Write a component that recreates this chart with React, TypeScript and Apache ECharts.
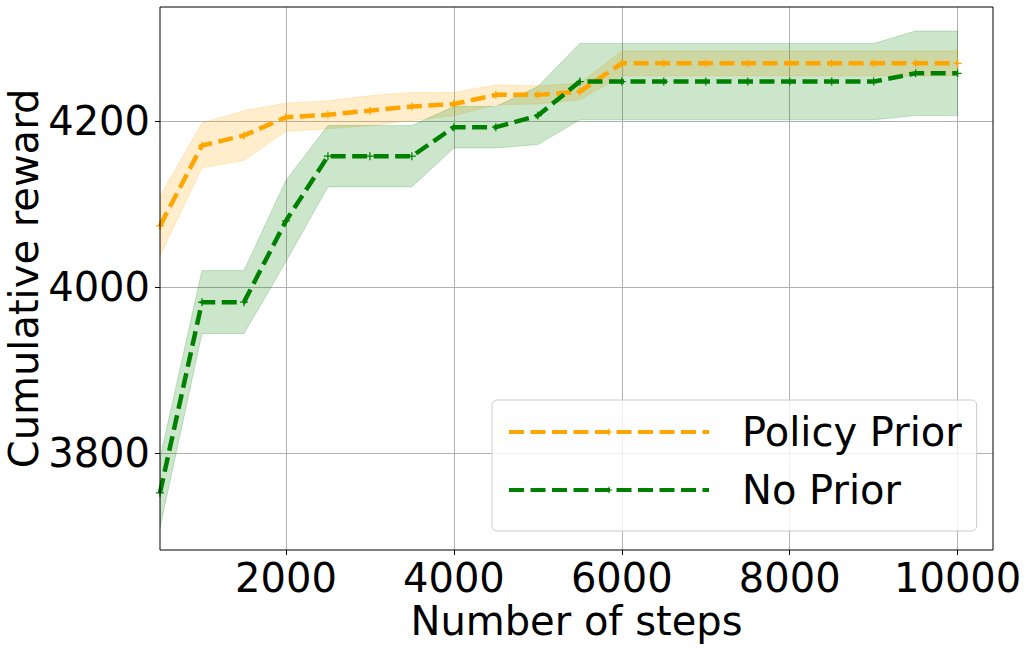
import React, { useEffect, useRef } from "react";
import * as echarts from "echarts";

const steps = [500, 1000, 1500, 2000, 2500, 3000, 3500, 4000, 4500, 5000, 5500, 6000, 6500, 7000, 7500, 8000, 8500, 9000, 9500, 10000];
const policyMean = [4074, 4171, 4183, 4205, 4208, 4213, 4218, 4221, 4232, 4232, 4236, 4270, 4270, 4270, 4270, 4270, 4270, 4270, 4270, 4270];
const policyStd = [36, 27, 30, 17, 17, 18, 17, 14, 12, 11, 10, 15, 15, 15, 15, 15, 15, 15, 15, 15];
const noPriorMean = [3752, 3982, 3982, 4080, 4158, 4158, 4158, 4193, 4193, 4207, 4248, 4248, 4248, 4248, 4248, 4248, 4248, 4248, 4258, 4258];
const noPriorStd = [42, 38, 38, 49, 37, 37, 37, 25, 25, 35, 46, 46, 46, 46, 46, 46, 46, 46, 51, 51];
const xTicks = [2000, 4000, 6000, 8000, 10000];
const yTicks = [3800, 4000, 4200];
const seriesNames = ["Policy Prior", "No Prior"];

const FONT = "DejaVu Sans";
const PLUS = "path://M0,4.2H10V5.8H0Z M4.2,0H5.8V10H4.2Z";

function bandSeries(name: string, mean: number[], std: number[], fill: string, stroke: string) {
  const data = steps.map((s, i) => [s, mean[i] - std[i], mean[i] + std[i]]);
  return {
    type: "custom",
    name,
    data,
    clip: true,
    silent: true,
    encode: { x: 0, y: [1, 2] },
    renderItem: (params: any, api: any) => {
      if (params.dataIndex !== 0) return null;
      const upper = data.map((d) => api.coord([d[0], d[2]]));
      const lower = data.map((d) => api.coord([d[0], d[1]])).reverse();
      return {
        type: "polygon",
        shape: { points: upper.concat(lower) },
        style: { fill, stroke, lineWidth: 1 },
      };
    },
  };
}

function lineSeries(name: string, mean: number[], color: string) {
  return {
    type: "line",
    name,
    data: steps.map((s, i) => [s, mean[i]]),
    symbol: PLUS,
    symbolSize: 8,
    showSymbol: true,
    lineStyle: { color, width: 4.5, type: [15, 6.5], cap: "butt" },
    itemStyle: { color },
  };
}

export default function App() {
  const ref = useRef<HTMLDivElement>(null);
  useEffect(() => {
    document.body.style.margin = "0";
    if (!ref.current) return;
    const chart = echarts.init(ref.current, null, { renderer: "svg" });
    const gl = 160, gt = 7, gr = 993, gb = 550;
    chart.setOption({
      animation: false,
      backgroundColor: "#ffffff",
      textStyle: { fontFamily: FONT },
      grid: { left: gl, top: gt, right: 1028 - gr, bottom: 649 - gb, containLabel: false, outerBoundsMode: "none" },
      xAxis: {
        type: "value",
        min: 500,
        max: 10421,
        splitNumber: 5,
        name: "Number of steps",
        nameLocation: "middle",
        nameGap: 51,
        nameMoveOverlap: false,
        nameTextStyle: { fontSize: 40, color: "#000", fontFamily: FONT },
        axisLine: { show: false },
        axisTick: { show: true, length: 5, lineStyle: { color: "#000" }, customValues: xTicks },
        axisLabel: { fontSize: 40, color: "#000", margin: 8, fontFamily: FONT, customValues: xTicks, formatter: (v: number) => String(v) },
        splitLine: { show: true, lineStyle: { color: "#b0b0b0", width: 1 } },
      },
      yAxis: {
        type: "value",
        min: 3683,
        max: 4338,
        splitNumber: 3,
        name: "Cumulative reward",
        nameLocation: "middle",
        nameGap: 116,
        nameMoveOverlap: false,
        nameRotate: 90,
        nameTextStyle: { fontSize: 40, color: "#000", fontFamily: FONT },
        axisLine: { show: false },
        axisTick: { show: true, length: 5, lineStyle: { color: "#000" }, customValues: yTicks },
        axisLabel: { fontSize: 40, color: "#000", margin: 10, fontFamily: FONT, customValues: yTicks, formatter: (v: number) => String(v) },
        splitLine: { show: true, lineStyle: { color: "#b0b0b0", width: 1 } },
      },
      legend: {
        data: seriesNames,
        orient: "vertical",
        left: 492,
        top: 400,
        padding: [9, 15, 18, 15],
        itemGap: 12,
        itemWidth: 200,
        itemHeight: 8,
        backgroundColor: "rgba(255,255,255,0.8)",
        borderColor: "#cccccc",
        borderWidth: 1,
        borderRadius: 5,
        lineStyle: { width: 4 },
        textStyle: { fontSize: 40, color: "#000", fontFamily: FONT, lineHeight: 46, padding: [0, 0, 0, 28] },
        z: 10,
      },
      graphic: [
        {
          type: "rect",
          shape: { x: gl, y: gt, width: gr - gl, height: gb - gt },
          style: { fill: "none", stroke: "#000", lineWidth: 1 },
          silent: true,
          z: 100,
        },
      ],
      series: [
        bandSeries("policyBand", policyMean, policyStd, "rgba(255,165,0,0.2)", "rgba(255,165,0,0.2)"),
        lineSeries(seriesNames[0], policyMean, "#ffa500"),
        bandSeries("noPriorBand", noPriorMean, noPriorStd, "rgba(0,128,0,0.2)", "rgba(0,128,0,0.2)"),
        lineSeries(seriesNames[1], noPriorMean, "#008000"),
      ],
    });
    return () => chart.dispose();
  }, []);
  return <div ref={ref} style={{ width: 1028, height: 649 }} />;
}
